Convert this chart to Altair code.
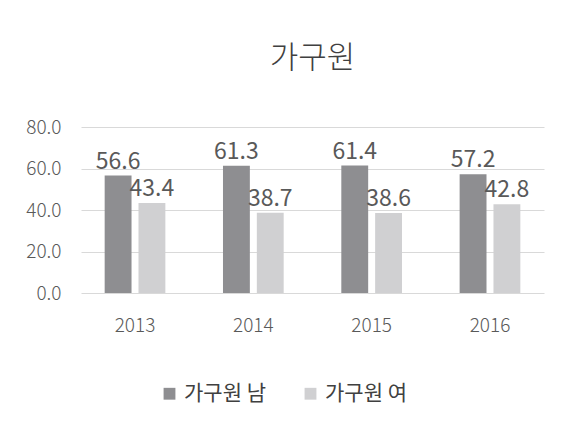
import altair as alt
import pandas as pd

years = ["2013", "2014", "2015", "2016"]
series = ["가구원 남", "가구원 여"]
male = [56.6, 61.3, 61.4, 57.2]
female = [43.4, 38.7, 38.6, 42.8]
colors = ["#8e8e91", "#d0d0d2"]
font = "Noto Sans CJK KR"

rows = []
for i, y in enumerate(years):
    rows.append({"year": y, "series": series[0], "value": male[i], "order": 0})
    rows.append({"year": y, "series": series[1], "value": female[i], "order": 1})
df = pd.DataFrame(rows)

x = alt.X("year:N", title=None,
          scale=alt.Scale(paddingInner=0.487, paddingOuter=0.2),
          axis=alt.Axis(labelAngle=0, labelFontSize=19, labelColor="#595959",
                        labelFont=font, labelFontWeight=300, labelPadding=23,
                        ticks=False, domain=False))
xo = alt.XOffset("series:N", sort=series, scale=alt.Scale(paddingInner=0.206, paddingOuter=0))
y = alt.Y("value:Q", title=None,
          scale=alt.Scale(domain=[0, 80]),
          axis=alt.Axis(values=[0, 20, 40, 60, 80], format=".1f", labelFontSize=19,
                        labelColor="#595959", labelFont=font, labelFontWeight=300,
                        labelPadding=20, ticks=False, domain=False,
                        gridColor="#d9d9d9", gridWidth=1))

bars = alt.Chart(df).mark_bar().encode(
    x=x, xOffset=xo, y=y,
    color=alt.Color("series:N", sort=series,
                    scale=alt.Scale(domain=series, range=colors),
                    legend=alt.Legend(title=None, orient="none", direction="horizontal",
                                      legendX=78, legendY=256,
                                      symbolType="square", symbolSize=140,
                                      symbolStrokeWidth=0,
                                      labelFontSize=21, labelColor="#404040", labelFont=font,
                                      columnPadding=34)),
)

labels = alt.Chart(df).mark_text(dy=-14, fontSize=23, color="#595959", font=font).encode(
    x=x, xOffset=xo, y=y,
    text=alt.Text("value:Q", format=".1f"),
)

chart = (bars + labels).properties(
    width=463, height=166,
    title=alt.TitleParams("가구원", fontSize=31, font=font, fontWeight=300,
                          color="#404040", offset=43, anchor="middle"),
    padding={"left": 17, "top": 35, "right": 10, "bottom": 10},
).configure_view(stroke=None)

chart.save("out.html", embed_options={"renderer": "svg", "actions": False})
